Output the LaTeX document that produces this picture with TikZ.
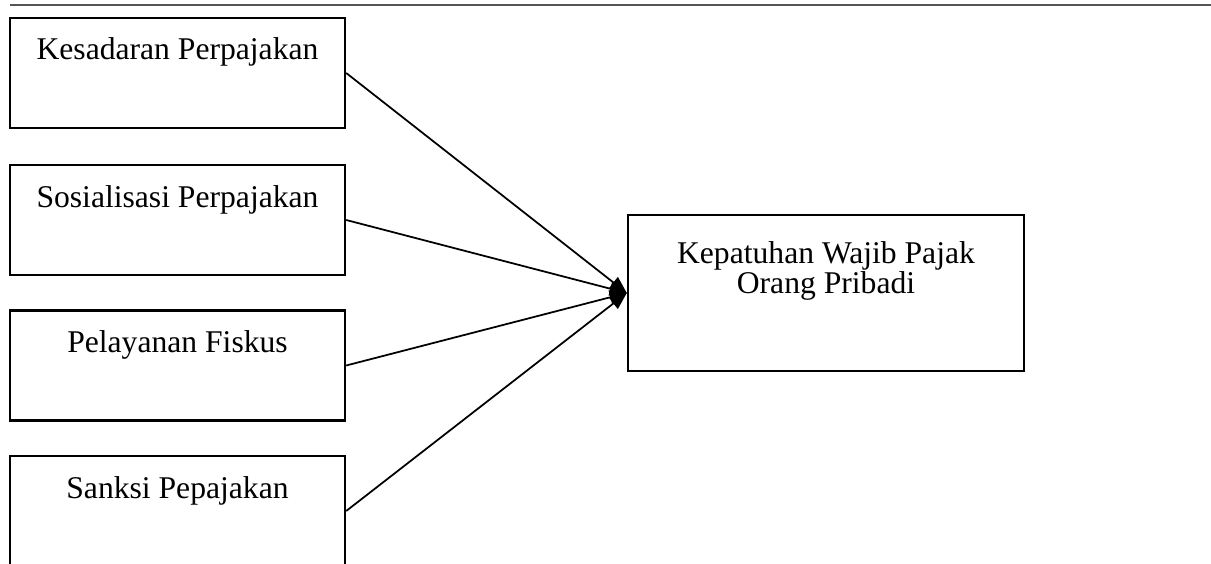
\documentclass[tikz,border=0pt]{standalone}
\usepackage{fontspec}
\setmainfont{Liberation Serif}
\usetikzlibrary{arrows.meta}
\definecolor{rulegray}{HTML}{555555}
\tikzset{
  varbox/.style={draw, line width=1.4pt, inner sep=0pt, minimum width=6.7cm,
    text height=0.84cm, text depth=1.36cm, font=\fontsize{18pt}{17pt}\selectfont},
  link/.style={line width=1pt, -{Triangle[length=0.34cm,width=0.28cm]}}
}
\begin{document}
\begin{tikzpicture}[x=0.02cm, y=-0.02cm]
	\useasboundingbox (0,0) rectangle (1211,564);
	
	% garis atas
	\coordinate (ga) at (10,5);
	\coordinate (gb) at (1211,5);
	\draw[rulegray, line width=1.3pt] (ga) -- (gb);
	
	\node[varbox] at (177.5,73) (kesadaran) {Kesadaran Perpajakan};
	\node[varbox] at (177.5,220) (sosialisasi) {Sosialisasi Perpajakan};
	\node[varbox] at (177.5,365.5) (pelayanan) {Pelayanan Fiskus};
	\node[varbox] at (177.5,511) (sanksi) {Sanksi Pepajakan};
	
	\node[varbox, minimum width=7.92cm, text height=0.96cm, text depth=2.16cm] at (826,293) (kepatuhan)
		{\begin{tabular}[t]{@{}c@{}}Kepatuhan Wajib Pajak\\Orang Pribadi\end{tabular}};
	
	\draw[link] (kesadaran.east) -- (kepatuhan.west);
	\draw[link] (sosialisasi.east) -- (kepatuhan.west);
	\draw[link] (pelayanan.east) -- (kepatuhan.west);
	\draw[link] (sanksi.east) -- (kepatuhan.west);
\end{tikzpicture}
\end{document}
